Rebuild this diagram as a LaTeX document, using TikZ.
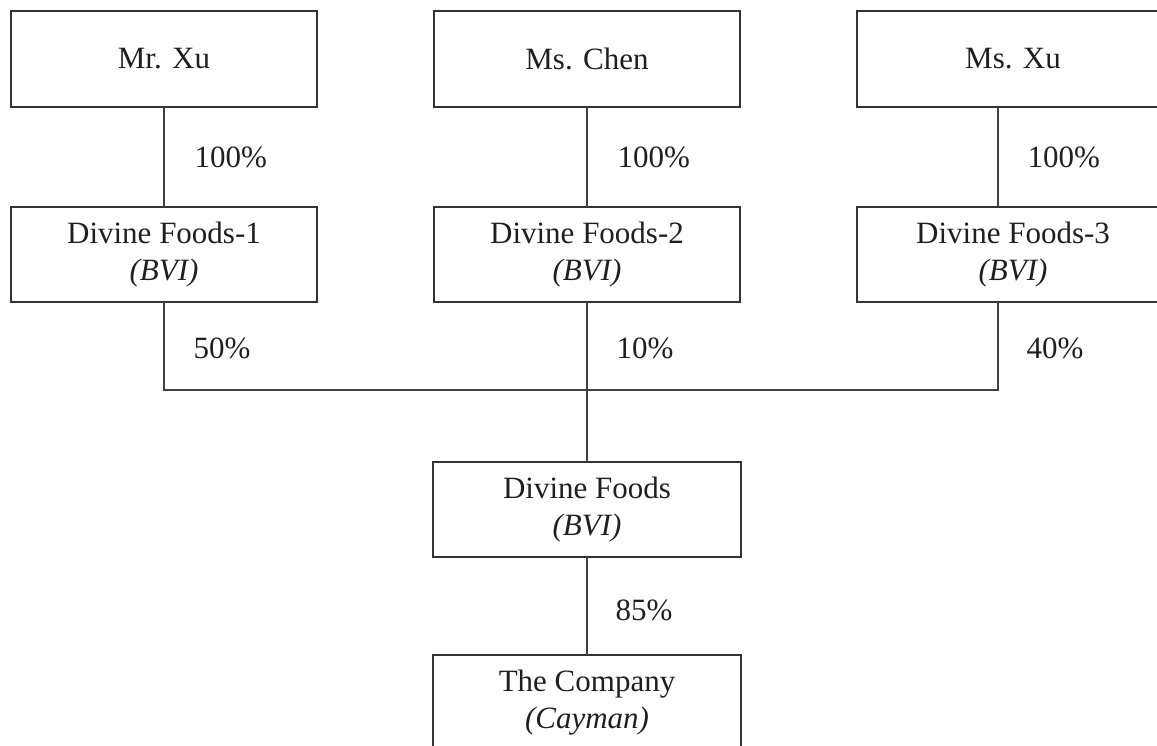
\documentclass[tikz,border=0pt]{standalone}
\usepackage{fontspec}
\setmainfont{Liberation Serif}
\begin{document}
\begin{tikzpicture}[x=1pt,y=-1pt,
  line width=1.3pt,
  every node/.style={font=\fontsize{31}{37}\selectfont, text=black!88},
  box/.style={draw=black!80, minimum width=306pt, minimum height=96pt, inner sep=0pt, outer sep=0pt, align=center},
  conn/.style={draw=black!75, line width=1.2pt},
  pct/.style={anchor=west, inner sep=0pt}
]
\useasboundingbox (0,0) rectangle (1157,746);
\clip (0,0) rectangle (1157,746);
% top row
\node[box] (mrxu) at (164,59) {Mr. Xu};
\node[box] (mschen) at (587,59) {Ms. Chen};
\node[box, minimum width=312pt] (msxu) at (1013,59) {Ms. Xu};
% second row
\node[box, minimum height=95pt] (df1) at (164,254.5) {Divine Foods-1\\\textit{(BVI)}};
\node[box, minimum height=95pt] (df2) at (587,254.5) {Divine Foods-2\\\textit{(BVI)}};
\node[box, minimum height=95pt, minimum width=312pt] (df3) at (1013,254.5) {Divine Foods-3\\\textit{(BVI)}};
% holding
\node[box, minimum width=308pt, minimum height=95pt] (df) at (587,509.5) {Divine Foods\\\textit{(BVI)}};
\node[box, minimum width=308pt] (co) at (587,703) {The Company\\\textit{(Cayman)}};
% connectors
\coordinate (l1t) at (164,107);
\coordinate (l3t) at (998,107);
\coordinate (l3b) at (998,302);
\coordinate (bar) at (587,390);
\draw[conn] (mrxu.south) -- (df1.north);
\draw[conn] (mschen.south) -- (df2.north);
\draw[conn] (l3t) -- (l3t |- df3.north);
\draw[conn] (df1.south) |- (bar) -| (l3b);
\draw[conn] (df2.south) -- (df.north);
\draw[conn] (df.south) -- (co.north);
% percentages
\node[pct] (p1) at (194,157) {100\%};
\node[pct] (p2) at (617,157) {100\%};
\node[pct] (p3) at (1027,157) {100\%};
\node[pct] (p4) at (193,348) {50\%};
\node[pct] (p5) at (616,348) {10\%};
\node[pct] (p6) at (1026,348) {40\%};
\node[pct] (p7) at (615,610) {85\%};
\end{tikzpicture}
\end{document}
